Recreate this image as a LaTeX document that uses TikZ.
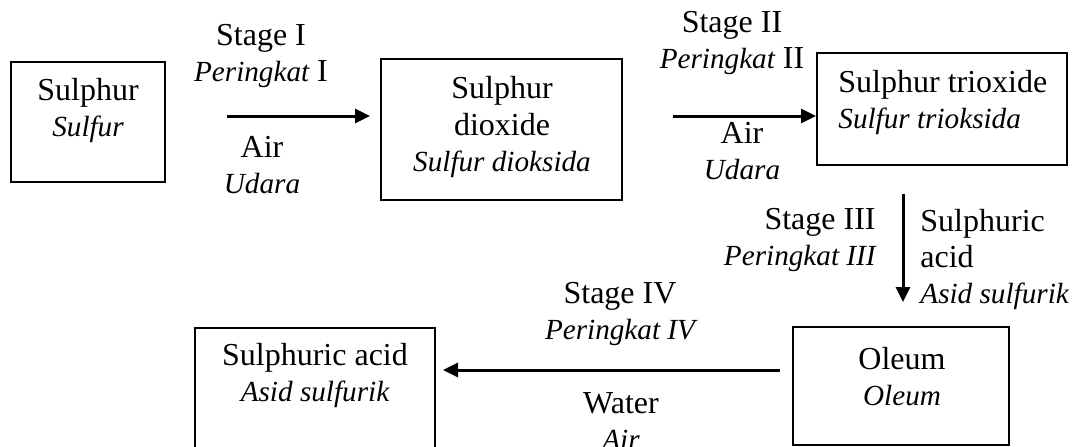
\documentclass[tikz,border=0pt]{standalone}
\usepackage{fontspec}
\setmainfont{Liberation Serif}
\usetikzlibrary{arrows.meta}
\newcommand\itl[1]{{\fontsize{14.6}{18}\selectfont\itshape #1}}
\begin{document}
\begin{tikzpicture}[x=0.5pt,y=-0.5pt,
  every node/.style={font=\fontsize{16}{18}\selectfont, inner sep=0pt},
  box/.style={draw, line width=1pt, rectangle},
  txt/.style={align=center},
  arr/.style={-{Triangle[length=7.5pt,width=7pt]}, line width=1.5pt}]
\useasboundingbox (0,0) rectangle (1076,446);
\clip (0,0) rectangle (1076,446);
% boxes
\node[box, minimum width=77pt, minimum height=60pt] (b1) at (88,122) {};
\node[box, minimum width=120.5pt, minimum height=70.5pt] (b2) at (501.5,129.5) {};
\node[box, minimum width=125pt, minimum height=56pt] (b3) at (942,109) {};
\node[box, minimum width=108pt, minimum height=59pt] (b4) at (901,386) {};
\node[box, minimum width=120pt, minimum height=71pt] (b5) at (315,399) {};
% box texts
\node[txt] (t1) at (88,110) {Sulphur\\\itl{Sulfur}};
\node[txt] (t2) at (502,127) {Sulphur\\dioxide\\\itl{Sulfur dioksida}};
\node[align=left, anchor=west] (t3) at (838,102.5) {Sulphur trioxide\\\itl{Sulfur trioksida}};
\node[txt] (t4) at (902,376.5) {Oleum\\\itl{Oleum}};
\node[txt] (t5) at (315,375.5) {Sulphuric acid\\\itl{Asid sulfurik}};
% labels
\node[txt] (s1) at (261,56) {Stage I\\\itl{Peringkat} I};
\node[txt] (w1) at (262,165) {Air\\\itl{Udara}};
\node[txt] (s2) at (732,43) {Stage II\\\itl{Peringkat} II};
\node[txt] (w2) at (742,151) {Air\\\itl{Udara}};
\node[align=right, anchor=east] (s3) at (876,240) {Stage III\\\itl{Peringkat III}};
\node[align=left, anchor=west] (r3) at (920,259) {Sulphuric\\acid\\\itl{Asid sulfurik}};
\node[txt] (s4) at (620,314.5) {Stage IV\\\itl{Peringkat IV}};
\node[txt] (w4) at (621,421.5) {Water\\\itl{Air}};
% arrows
\coordinate (a1s) at (227,116);
\coordinate (a1e) at (370,116);
\draw[arr] (a1s) -- (a1e);
\coordinate (a2s) at (673,116);
\draw[arr] (a2s) -- (a2s -| b3.west);
\coordinate (a3s) at (903,194);
\coordinate (a3e) at (903,302);
\draw[arr] (a3s) -- (a3e);
\coordinate (a4s) at (780,370);
\coordinate (a4e) at (443,370);
\draw[arr] (a4s) -- (a4e);
\end{tikzpicture}
\end{document}
